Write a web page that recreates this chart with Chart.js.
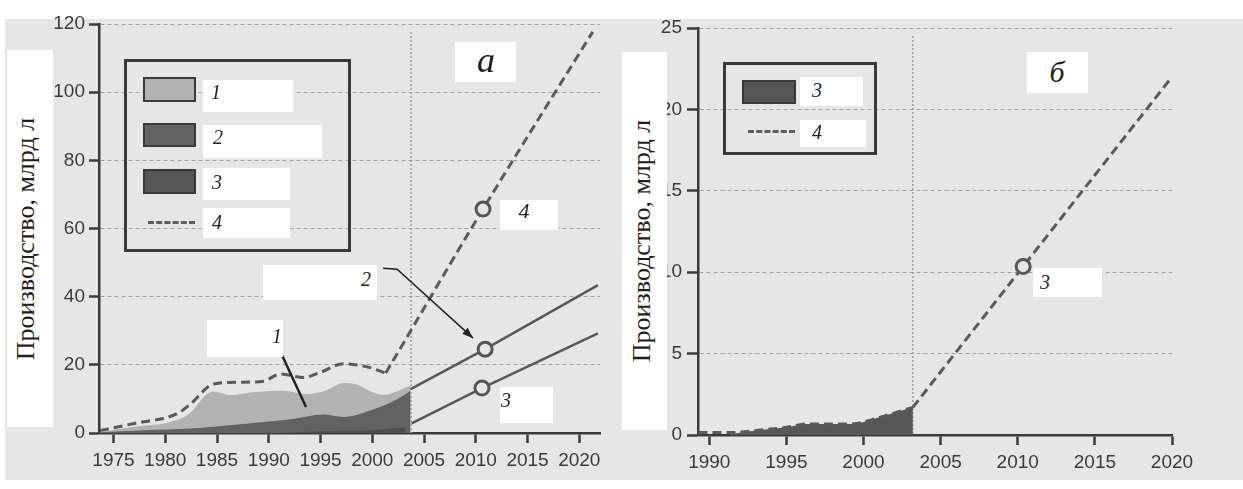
<!DOCTYPE html>
<html>
<head>
<meta charset="utf-8">
<script src="https://cdn.jsdelivr.net/npm/chart.js@4.4.1/dist/chart.umd.min.js"></script>
<style>
  body { margin: 0; width: 1243px; height: 489px; background: #fff; position: relative; overflow: hidden; font-family: "Liberation Serif", serif; }
  #paper { position: absolute; left: 5px; top: 19px; width: 1238px; height: 461px; background: #e6e6e6; }
  canvas { position: absolute; top: 0; }
  .box { position: absolute; background: #fff; }
  .lbl { position: absolute; font-style: italic; font-size: 20px; color: #1e1e1e; line-height: 1; transform: translate(-50%, -50%); }
  .legend { position: absolute; border: 3px solid #3a3a3a; box-sizing: border-box; }
  .sw { position: absolute; border: 2px solid #3a3a3a; box-sizing: border-box; }
  .dash { position: absolute; height: 0; border-top: 3px dashed #5e5e5e; }
  .ytitle { position: absolute; font-size: 26px; color: #1e1e1e; white-space: nowrap; transform: translate(-50%, -50%) rotate(-90deg); }
</style>
</head>
<body>
<div id="paper"></div>
<canvas id="chartA" width="620" height="489" style="left:0"></canvas>
<canvas id="chartB" width="623" height="489" style="left:620px"></canvas>

<!-- панель а: подписи -->
<div class="box" style="left:7px;top:50px;width:46px;height:377px"></div>
<div class="ytitle" style="left:26px;top:239px">Производство, млрд л</div>
<div class="legend" style="left:124px;top:59px;width:227px;height:193px"></div>
<div class="sw" style="left:143px;top:77px;width:53px;height:25px;background:#b2b2b2"></div>
<div class="sw" style="left:143px;top:123px;width:53px;height:24px;background:#626262"></div>
<div class="sw" style="left:143px;top:169px;width:53px;height:25px;background:#575757"></div>
<div class="dash" style="left:148px;top:221px;width:47px"></div>
<div class="box" style="left:203px;top:80px;width:90px;height:32px"></div>
<div class="box" style="left:203px;top:125px;width:119px;height:33px"></div>
<div class="box" style="left:203px;top:168px;width:87px;height:32px"></div>
<div class="box" style="left:203px;top:208px;width:87px;height:30px"></div>
<div class="lbl" style="left:216px;top:92px">1</div>
<div class="lbl" style="left:218px;top:137px">2</div>
<div class="lbl" style="left:217px;top:182px">3</div>
<div class="lbl" style="left:217px;top:222px">4</div>
<div class="box" style="left:455px;top:42px;width:61px;height:40px"></div>
<div class="lbl" style="left:486px;top:60px;font-size:36px">а</div>
<div class="box" style="left:500px;top:200px;width:58px;height:30px"></div>
<div class="lbl" style="left:524px;top:211px;font-size:22px">4</div>
<div class="box" style="left:263px;top:265px;width:114px;height:35px"></div>
<div class="lbl" style="left:366px;top:279px">2</div>
<div class="box" style="left:207px;top:320px;width:76px;height:37px"></div>
<div class="lbl" style="left:277px;top:336px">1</div>
<div class="box" style="left:500px;top:387px;width:53px;height:36px"></div>
<div class="lbl" style="left:506px;top:400px">3</div>

<!-- панель б: подписи -->
<div class="box" style="left:622px;top:52px;width:45px;height:378px"></div>
<div class="ytitle" style="left:642px;top:241px">Производство, млрд л</div>
<div class="legend" style="left:723px;top:62px;width:154px;height:93px"></div>
<div class="sw" style="left:742px;top:80px;width:54px;height:24px;background:#575757"></div>
<div class="dash" style="left:748px;top:130px;width:47px"></div>
<div class="box" style="left:800px;top:77px;width:63px;height:29px"></div>
<div class="box" style="left:800px;top:120px;width:66px;height:27px"></div>
<div class="lbl" style="left:817px;top:90px">3</div>
<div class="lbl" style="left:817px;top:132px">4</div>
<div class="box" style="left:1027px;top:52px;width:61px;height:41px"></div>
<div class="lbl" style="left:1057px;top:72px;font-size:30px">б</div>
<div class="box" style="left:1033px;top:268px;width:69px;height:29px"></div>
<div class="lbl" style="left:1045px;top:282px">3</div>

<script>
// панель а, ряд 1
const yearsLight = [1973.7, 1977, 1980.8, 1982.4, 1984, 1984.7, 1986.3, 1988.2, 1991.4, 1993.7, 1995.5, 1997.2, 1998.5, 2000, 2001.1, 2003.7];
const valuesLight = [0.3, 1.8, 3.5, 5.9, 11.4, 12.2, 11.1, 11.9, 12.4, 11.4, 12.5, 14.7, 14.2, 12, 11.2, 13.9];
// панель а, ряд 2
const yearsDark = [1973.7, 1978, 1982.4, 1987, 1992.1, 1995.3, 1997.2, 2000.1, 2002.4, 2003.7];
const valuesDark = [0.2, 0.8, 1.3, 2.5, 4, 5.4, 4.7, 6.9, 9.9, 12.4];
// панель а, ряд 4 (факт)
const yearsTotal = [1973.7, 1977, 1981.1, 1982.4, 1984.7, 1987.3, 1989.5, 1991.1, 1993.4, 1995, 1997.2, 1999.5, 2001.3];
const valuesTotal = [0.7, 2.8, 5.6, 8.4, 14.4, 14.9, 15.2, 17.3, 16.3, 17.8, 20.3, 19.4, 17.6];
// панель а, прогнозы
const yearsProj2 = [2003.7, 2010.9, 2021.8];
const valuesProj2 = [12.9, 24.6, 43.4];
const yearsProj3a = [2003.8, 2010.6, 2021.8];
const valuesProj3a = [2.8, 13.2, 29.2];
const yearsProj4a = [2001.3, 2010.7, 2021.3];
const valuesProj4a = [17.6, 65.7, 117.7];

// ряд 3 (факт), общий для обеих панелей
const yearsEthanol = [1991.3, 1993.3, 1995, 1996.3, 1999.3, 2000.6, 2001.9, 2003.2];
const valuesEthanol = [0.05, 0.3, 0.47, 0.68, 0.68, 0.96, 1.33, 1.7];
// панель б, ряд 4
const yearsLine4b = [1989.3, 1991.3, 1993.3, 1995, 1996.3, 1999.3, 2000.6, 2001.9, 2003.2];
const valuesLine4b = [0.15, 0.15, 0.3, 0.47, 0.68, 0.68, 0.96, 1.33, 1.7];
const yearsProj4b = [2003.2, 2010.35, 2020];
const valuesProj4b = [1.7, 10.35, 22];

// оси
const ticksXa = [1975, 1980, 1985, 1990, 1995, 2000, 2005, 2010, 2015, 2020];
const ticksYa = [0, 20, 40, 60, 80, 100, 120];
const ticksXb = [1990, 1995, 2000, 2005, 2010, 2015, 2020];
const ticksYb = [0, 5, 10, 15, 20, 25];

const BG = "#e6e6e6";
const AXIS = "#3a3a3a";

Chart.defaults.font.family = "'Liberation Sans', Arial, sans-serif";
Chart.defaults.font.size = 19;
Chart.defaults.color = AXIS;

function pts(xs, ys) {
  return xs.map((x, i) => ({ x: x, y: ys[i] }));
}

function area(xs, ys, color) {
  return {
    data: pts(xs, ys), borderWidth: 0, borderColor: color, backgroundColor: color,
    fill: "origin", pointRadius: 0, cubicInterpolationMode: "monotone",
  };
}

function dashed(xs, ys, markerIdx) {
  return {
    data: pts(xs, ys), borderColor: "#5a5a5a", borderWidth: 3, borderDash: [9, 5],
    fill: false, cubicInterpolationMode: "monotone",
    pointRadius: xs.map((_, i) => (i === markerIdx ? 7 : 0)),
    pointBackgroundColor: BG, pointBorderColor: "#555", pointBorderWidth: 3,
  };
}

function solid(xs, ys, markerIdx) {
  return {
    data: pts(xs, ys), borderColor: "#585858", borderWidth: 2.5, fill: false, tension: 0,
    pointRadius: xs.map((_, i) => (i === markerIdx ? 7 : 0)),
    pointBackgroundColor: BG, pointBorderColor: "#555", pointBorderWidth: 3,
  };
}

// вертикальная граница факта и выноски
const annotations = {
  id: "annotations",
  beforeDatasetsDraw(chart, args, opts) {
    const { ctx, chartArea, scales } = chart;
    const sx = scales.x.getPixelForValue(opts.split);
    ctx.save();
    ctx.strokeStyle = "#9c9c9c";
    ctx.lineWidth = 1.5;
    ctx.setLineDash([2, 2]);
    ctx.beginPath();
    ctx.moveTo(sx, chartArea.top + 8);
    ctx.lineTo(sx, chartArea.bottom);
    ctx.stroke();
    ctx.restore();
  },
  afterDatasetsDraw(chart, args, opts) {
    const { ctx, scales } = chart;
    (opts.pointers || []).forEach((p) => {
      const tx = scales.x.getPixelForValue(p.at[0]) + p.tip[0];
      const ty = scales.y.getPixelForValue(p.at[1]) + p.tip[1];
      const path = p.path.map((o) => [tx + o[0], ty + o[1]]);
      ctx.save();
      ctx.strokeStyle = "#222";
      ctx.lineWidth = p.arrow ? 1.5 : 2.5;
      ctx.beginPath();
      ctx.moveTo(path[0][0], path[0][1]);
      path.slice(1).forEach((q) => ctx.lineTo(q[0], q[1]));
      ctx.lineTo(tx, ty);
      ctx.stroke();
      if (p.arrow) {
        const last = path[path.length - 1];
        const ang = Math.atan2(ty - last[1], tx - last[0]);
        ctx.fillStyle = "#222";
        ctx.beginPath();
        ctx.moveTo(tx, ty);
        ctx.lineTo(tx - 11 * Math.cos(ang) + 4 * Math.sin(ang), ty - 11 * Math.sin(ang) - 4 * Math.cos(ang));
        ctx.lineTo(tx - 11 * Math.cos(ang) - 4 * Math.sin(ang), ty - 11 * Math.sin(ang) + 4 * Math.cos(ang));
        ctx.closePath();
        ctx.fill();
      }
      ctx.restore();
    });
  },
};

function makeChart(el, datasets, o) {
  return new Chart(el, {
    type: "line",
    data: { datasets: datasets },
    options: {
      responsive: false,
      animation: false,
      events: [],
      devicePixelRatio: 1,
      layout: { padding: { left: 0, top: o.top, right: o.right, bottom: 0 } },
      plugins: {
        legend: { display: false },
        tooltip: { enabled: false },
        annotations: { split: o.split, pointers: o.pointers },
      },
      scales: {
        x: {
          type: "linear", min: o.xMin, max: o.xMax, z: 1,
          afterBuildTicks: (s) => { s.ticks = o.ticksX.map((v) => ({ value: v })); },
          afterFit: (s) => { s.height = o.xHeight; },
          ticks: { padding: 6, callback: (v) => String(v), color: AXIS },
          grid: { drawOnChartArea: false, tickLength: 10, tickColor: AXIS, tickWidth: 2.5 },
          border: { color: AXIS, width: 2.5 },
        },
        y: {
          min: 0, max: o.yMax,
          afterBuildTicks: (s) => { s.ticks = o.ticksY.map((v) => ({ value: v })); },
          afterFit: (s) => { s.width = o.yWidth; },
          ticks: { padding: o.yPad, color: AXIS },
          grid: { color: "#a2a2a2", lineWidth: 1, tickLength: o.yTick, tickColor: AXIS, tickWidth: 2.5 },
          border: { color: AXIS, width: 2.5, dash: [4, 3] },
        },
      },
    },
    plugins: [annotations],
  });
}

makeChart(document.getElementById("chartA"), [
  dashed(yearsTotal, valuesTotal, -1),
  dashed(yearsProj4a, valuesProj4a, 1),
  solid(yearsProj2, valuesProj2, 1),
  solid(yearsProj3a, valuesProj3a, 1),
  area(yearsEthanol, valuesEthanol, "#4e4e4e"),
  area(yearsDark, valuesDark, "#626262"),
  area(yearsLight, valuesLight, "#b2b2b2"),
], {
  top: 24, right: 20, xHeight: 56, yWidth: 99, yTick: 10, yPad: 4,
  xMin: 1973.6, xMax: 2022, yMax: 120, ticksX: ticksXa, ticksY: ticksYa, split: 2003.75,
  pointers: [
    { at: [1993.6, 7.6], tip: [0, 0], path: [[-25, -54]], arrow: false },
    { at: [2010.9, 24.6], tip: [-12, -11], path: [[-90, -70], [-76, -69]], arrow: true },
  ],
});

makeChart(document.getElementById("chartB"), [
  dashed(yearsLine4b, valuesLine4b, -1),
  dashed(yearsProj4b, valuesProj4b, 1),
  area(yearsEthanol, valuesEthanol, "#575757"),
], {
  top: 28, right: 71, xHeight: 54, yWidth: 78, yTick: 11, yPad: 5,
  xMin: 1989.27, xMax: 2020, yMax: 25, ticksX: ticksXb, ticksY: ticksYb, split: 2003.2,
  pointers: [],
});
</script>
</body>
</html>
